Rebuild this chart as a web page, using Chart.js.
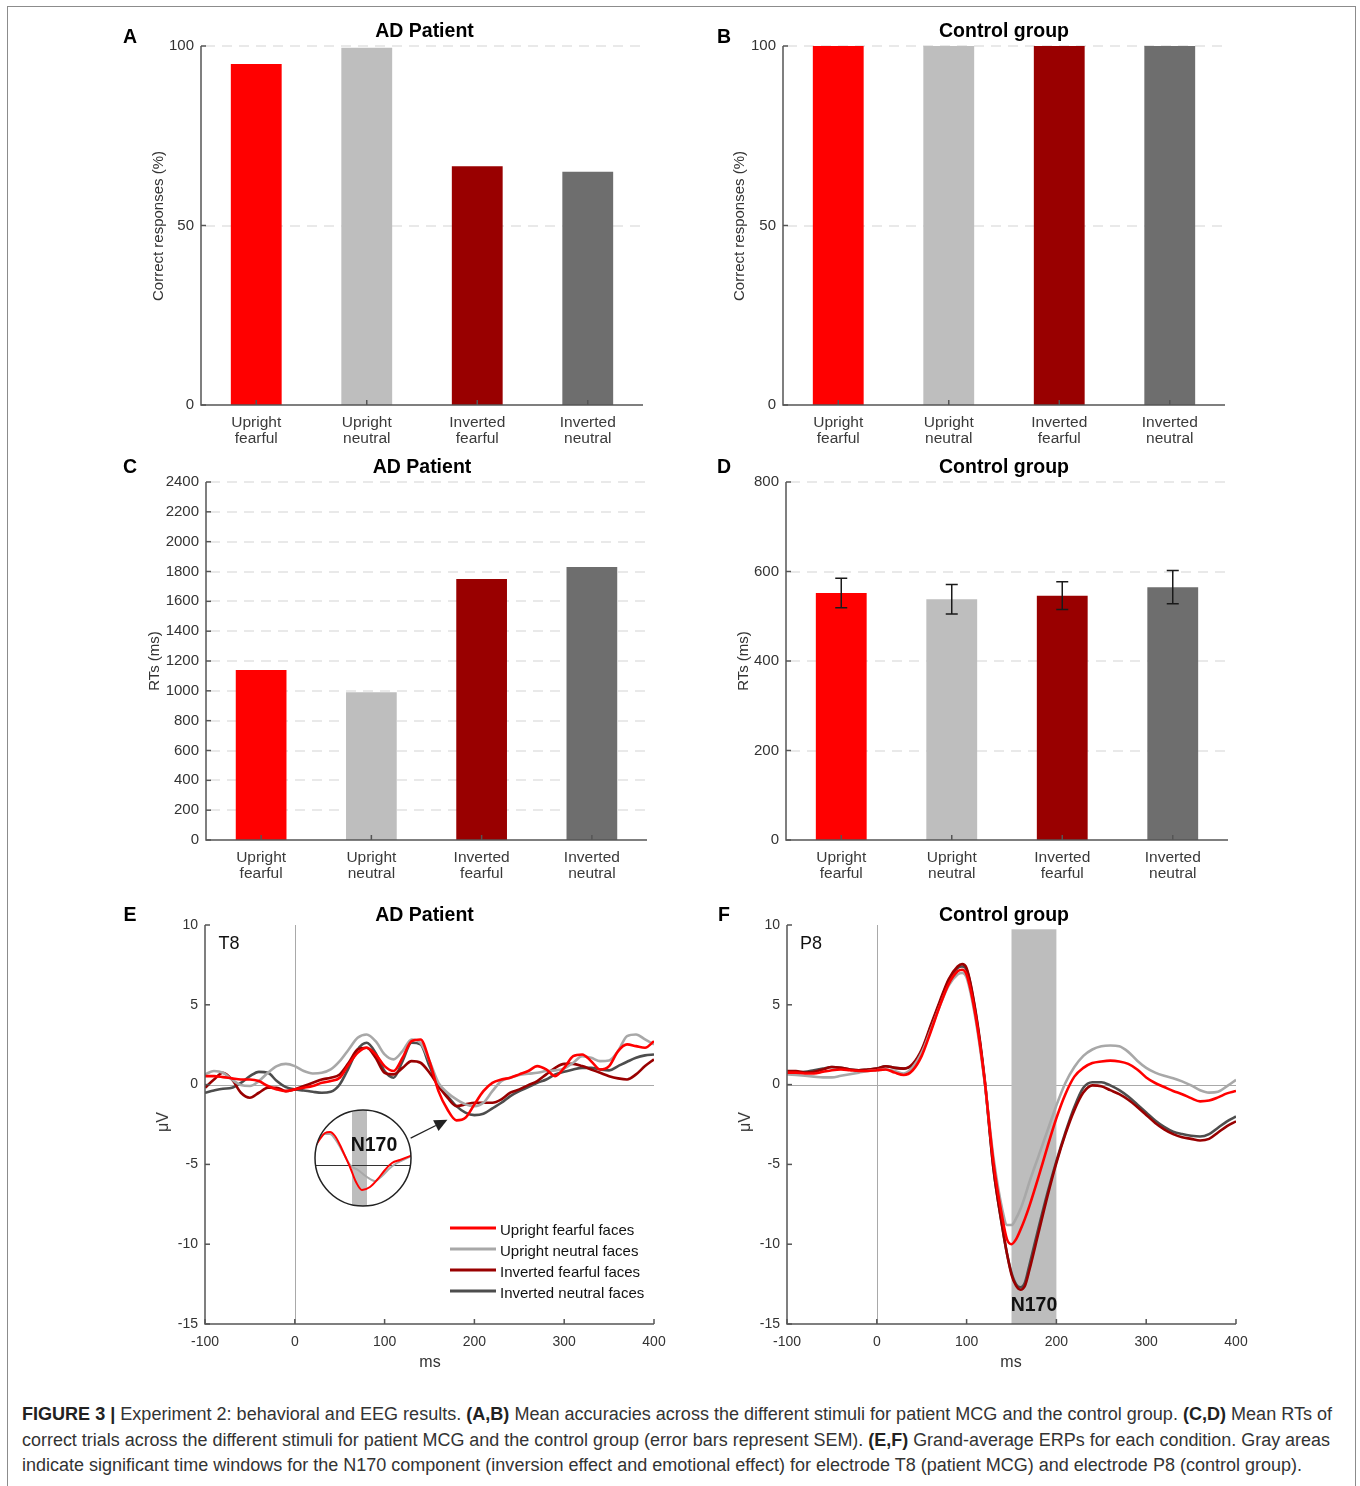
<!DOCTYPE html>
<html>
<head>
<meta charset="utf-8">
<title>Figure 3</title>
<script src="https://cdn.jsdelivr.net/npm/chart.js@4.4.1/dist/chart.umd.min.js"></script>
<style>
  html, body { margin:0; padding:0; background:#fff; }
  body { width:1360px; height:1486px; position:relative; overflow:hidden; font-family:"Liberation Sans", Arial, Helvetica, sans-serif; }
  #frame { position:absolute; left:7px; top:6px; width:1349px; height:1540px; border:1px solid #8c8c8c; box-sizing:border-box; }
  canvas { position:absolute; }
  .t { position:absolute; white-space:nowrap; transform:translate(-50%,-50%); line-height:1; }
  .title { font-weight:bold; font-size:19.5px; color:#000; }
  .let { font-weight:bold; font-size:19.5px; color:#000; }
  .ylab { font-size:15px; color:#333; transform:translate(-50%,-50%) rotate(-90deg); }
  .xlab { font-size:16px; color:#333; }
  .el { font-size:18px; color:#111; }
  .n170 { font-weight:bold; font-size:19.5px; color:#111; }
  #caption { position:absolute; left:22px; top:1400px; font-family:"Liberation Sans Narrow","Liberation Sans",Arial,sans-serif; font-size:18px; color:#333; }
  #caption .ln { position:absolute; left:0; white-space:nowrap; transform-origin:0 50%; line-height:20px; }
  #caption b { color:#222; }
</style>
</head>
<body>
<div id="frame"></div>

<canvas id="cA"></canvas>
<canvas id="cB"></canvas>
<canvas id="cC"></canvas>
<canvas id="cD"></canvas>
<canvas id="cE"></canvas>
<canvas id="cF"></canvas>
<canvas id="cInset"></canvas>

<div class="t let" style="left:130px;top:37px">A</div>
<div class="t let" style="left:724px;top:37px">B</div>
<div class="t let" style="left:130px;top:467px">C</div>
<div class="t let" style="left:724px;top:467px">D</div>
<div class="t let" style="left:130px;top:915px">E</div>
<div class="t let" style="left:724px;top:915px">F</div>

<div class="t title" style="left:424.5px;top:31px">AD Patient</div>
<div class="t title" style="left:1004px;top:31px">Control group</div>
<div class="t title" style="left:422px;top:467px">AD Patient</div>
<div class="t title" style="left:1004px;top:467px">Control group</div>
<div class="t title" style="left:424.5px;top:915px">AD Patient</div>
<div class="t title" style="left:1004px;top:915px">Control group</div>

<div class="t ylab" style="left:157px;top:226px">Correct responses (%)</div>
<div class="t ylab" style="left:738px;top:226px">Correct responses (%)</div>
<div class="t ylab" style="left:153px;top:661px">RTs (ms)</div>
<div class="t ylab" style="left:742px;top:661px">RTs (ms)</div>
<div class="t ylab" style="left:163px;top:1122px;font-size:16px">μV</div>
<div class="t ylab" style="left:745px;top:1122px;font-size:16px">μV</div>
<div class="t xlab" style="left:430px;top:1362px">ms</div>
<div class="t xlab" style="left:1011px;top:1362px">ms</div>
<div class="t el" style="left:229px;top:943px">T8</div>
<div class="t el" style="left:811px;top:943px">P8</div>
<div class="t n170" style="left:1034px;top:1305px">N170</div>

<div id="caption">
  <div class="ln" data-w="1310" style="top:4px"><b>FIGURE 3 |</b> Experiment 2: behavioral and EEG results. <b>(A,B)</b> Mean accuracies across the different stimuli for patient MCG and the control group. <b>(C,D)</b> Mean RTs of</div>
  <div class="ln" data-w="1308" style="top:30px">correct trials across the different stimuli for patient MCG and the control group (error bars represent SEM). <b>(E,F)</b> Grand-average ERPs for each condition. Gray areas</div>
  <div class="ln" data-w="1280" style="top:55px">indicate significant time windows for the N170 component (inversion effect and emotional effect) for electrode T8 (patient MCG) and electrode P8 (control group).</div>
</div>

<script>
// ---------------- DATA ----------------
const categories = [['Upright','fearful'], ['Upright','neutral'], ['Inverted','fearful'], ['Inverted','neutral']];
const accuracyAD = [95, 99.5, 66.5, 65];
const accuracyControl = [100, 100, 100, 100];
const rtAD = [1140, 990, 1750, 1830];
const rtControl = [552, 538, 546, 565];
const rtControlSEM = [33, 33, 31, 37];

const seriesLabels = ['Upright fearful faces', 'Upright neutral faces', 'Inverted fearful faces', 'Inverted neutral faces'];

// Panel E (T8, AD patient), times in ms
const timesE = [-100,-90,-80,-70,-60,-50,-40,-30,-20,-10,0,10,20,30,40,50,60,70,80,90,100,110,120,130,140,150,160,170,180,190,200,210,220,230,240,250,260,270,280,290,300,310,320,330,340,350,360,370,380,390,400];
const eUprightFearful  = [0.53,0.53,0.47,0.39,0.32,0.32,0.22,-0.09,-0.30,-0.41,-0.30,-0.20,-0.09,0.11,0.22,0.43,1.26,1.99,2.31,1.89,1.16,0.85,1.68,2.72,2.83,1.47,-0.41,-1.56,-2.24,-2.08,-1.24,-0.41,0.11,0.32,0.43,0.64,0.85,1.16,0.95,0.53,1.05,1.78,1.89,1.47,0.95,1.16,2.10,2.52,2.41,2.31,2.72];
const eUprightNeutral  = [0.64,0.85,0.74,0.32,-0.03,-0.09,0.22,0.74,1.16,1.30,1.16,0.85,0.70,0.74,0.95,1.47,2.20,2.93,3.14,2.72,1.89,1.58,2.10,2.83,2.62,1.47,0.11,-0.51,-0.93,-1.24,-1.35,-1.14,-0.41,0.22,0.43,0.60,0.68,0.74,0.85,0.89,1.01,1.37,1.78,1.68,1.47,1.51,2.10,3.04,3.14,2.83,2.52];
const eInvertedFearful = [-0.20,0.32,0.74,0.32,-0.51,-0.82,-0.51,-0.20,-0.20,-0.41,-0.30,-0.09,0.11,0.32,0.43,0.64,1.37,2.20,2.31,1.68,0.74,0.64,1.05,1.47,1.37,0.74,-0.09,-0.82,-1.35,-1.24,-1.14,-1.14,-1.14,-0.93,-0.51,-0.30,-0.03,0.22,0.64,1.05,1.30,1.30,1.16,0.95,0.74,0.53,0.39,0.32,0.64,1.16,1.58];
const eInvertedNeutral = [-0.51,-0.37,-0.26,-0.20,0.11,0.53,0.80,0.74,0.22,-0.16,-0.30,-0.37,-0.45,-0.51,-0.45,0.01,1.05,2.20,2.62,1.99,0.85,0.43,1.47,2.62,2.52,1.16,-0.09,-0.72,-1.35,-1.76,-1.91,-1.83,-1.49,-1.14,-0.72,-0.41,-0.16,0.11,0.32,0.64,0.80,0.95,1.05,1.05,0.95,0.89,1.16,1.43,1.68,1.83,1.89];

// Panel F (P8, control group), times in ms
const timesF = [-100,-90,-80,-70,-60,-50,-40,-30,-20,-10,0,10,20,30,40,50,60,70,80,90,95,100,110,120,130,140,145,150,155,160,165,170,180,190,200,210,220,230,240,250,260,270,280,290,300,310,320,330,340,350,360,370,380,390,400];
const fUprightFearful  = [0.75,0.75,0.70,0.70,0.80,0.90,0.95,0.90,0.85,0.85,0.90,0.95,0.75,0.60,0.90,1.80,3.30,4.90,6.30,7.10,7.20,6.90,4.30,0.30,-4.90,-8.40,-9.70,-10.00,-9.70,-9.10,-8.40,-7.60,-5.80,-3.90,-2.10,-0.60,0.50,1.05,1.35,1.45,1.50,1.45,1.30,0.95,0.45,0.10,-0.15,-0.40,-0.60,-0.85,-1.05,-1.00,-0.80,-0.55,-0.40];
const fUprightNeutral  = [0.65,0.60,0.55,0.50,0.45,0.45,0.55,0.65,0.75,0.85,0.90,0.95,0.85,0.70,1.10,2.00,3.40,4.90,6.20,6.90,7.00,6.70,4.10,0.20,-4.60,-7.90,-8.80,-8.80,-8.40,-7.80,-7.00,-6.10,-4.50,-2.90,-1.30,0.10,1.10,1.80,2.20,2.40,2.45,2.40,2.05,1.50,1.05,0.75,0.55,0.40,0.20,-0.05,-0.35,-0.50,-0.45,-0.10,0.30];
const fInvertedFearful = [0.85,0.85,0.75,0.80,0.95,1.10,1.05,0.95,0.90,0.95,1.00,1.15,1.05,1.00,1.30,2.20,3.70,5.20,6.60,7.40,7.55,7.30,4.60,0.40,-5.30,-9.00,-10.60,-11.90,-12.60,-12.85,-12.60,-11.60,-9.30,-7.00,-4.90,-3.10,-1.60,-0.50,-0.05,-0.10,-0.35,-0.60,-0.95,-1.40,-1.90,-2.40,-2.80,-3.10,-3.30,-3.40,-3.50,-3.40,-3.00,-2.60,-2.30];
const fInvertedNeutral = [0.70,0.75,0.80,0.90,1.00,1.10,1.05,0.95,0.90,0.95,1.00,1.15,1.05,1.00,1.25,2.10,3.60,5.10,6.50,7.30,7.40,7.20,4.50,0.30,-5.30,-9.00,-10.60,-11.80,-12.50,-12.70,-12.40,-11.30,-9.00,-6.80,-4.80,-3.00,-1.40,-0.20,0.15,0.15,-0.05,-0.35,-0.75,-1.25,-1.75,-2.25,-2.65,-2.95,-3.10,-3.20,-3.25,-3.10,-2.70,-2.30,-2.00];

// significant N170 window in panel F: [start ms, end ms, top µV]
const n170WindowF = [150, 200, 9.73];

// Inset of panel E (zoomed N170 view, relative time units)
const insetRedX  = [-2,5,10,15,20,25,30,35,41,47,55,62,70,77,85,98];
const insetRedY  = [1.5,2.6,3.2,3.3,2.9,2.0,0.9,-0.2,-1.7,-2.5,-2.2,-1.5,-0.5,0.2,0.5,1.0];
const insetGrayX = [-2,5,10,15,20,25,30,35,43,52,60,67,75,82,90,98];
const insetGrayY = [2.0,2.8,3.1,3.1,2.6,1.8,0.9,0.0,-0.5,-1.2,-1.6,-1.1,-0.3,0.2,0.6,1.0];
const insetWindow = [37, 52];
// arrow from inset to the N170 trough in panel E: [ms, µV]
const arrowFrom = [129, -3.35];
const arrowTo = [170, -2.2];

// ---------------- STYLES ----------------
const barColors = ['#ff0000', '#bebebe', '#990000', '#6e6e6e'];
const lineColors = ['#ff0000', '#a8a8a8', '#990000', '#4d4d4d'];
const FONT = '"Liberation Sans", Arial, sans-serif';

Chart.defaults.font.family = FONT;
Chart.defaults.color = '#333';
Chart.defaults.animation = false;

function place(id, box) {
  const g = { ml: 95, mt: 30, mr: 25, mb: 60 };
  const c = document.getElementById(id);
  c.width = (box.R - box.L) + g.ml + g.mr;
  c.height = (box.B - box.T) + g.mt + g.mb;
  c.style.left = (box.L - g.ml) + 'px';
  c.style.top = (box.T - g.mt) + 'px';
  g.canvas = c;
  return g;
}

const matAxes = {
  id: 'matAxes',
  beforeDatasetsDraw(chart, args, o) {
    const { ctx, chartArea: ca, scales: { x, y } } = chart;
    ctx.save();
    if (o.dashGrid) {
      ctx.strokeStyle = '#e2e2e2'; ctx.lineWidth = 1.5; ctx.setLineDash([10, 7]);
      y.ticks.forEach(t => {
        if (t.value <= y.min) return;
        const py = Math.round(y.getPixelForValue(t.value));
        ctx.beginPath(); ctx.moveTo(ca.left + 4, py); ctx.lineTo(ca.right, py); ctx.stroke();
      });
      ctx.setLineDash([]);
    }
    if (o.zeroLines) {
      ctx.strokeStyle = '#a9a9a9'; ctx.lineWidth = 1;
      const px = Math.round(x.getPixelForValue(0)) + 0.5;
      const py = Math.round(y.getPixelForValue(0)) + 0.5;
      ctx.beginPath(); ctx.moveTo(px, ca.top); ctx.lineTo(px, ca.bottom); ctx.stroke();
      ctx.beginPath(); ctx.moveTo(ca.left, py); ctx.lineTo(ca.right, py); ctx.stroke();
    }
    if (o.band) {
      const [t0, t1, v1] = o.band;
      const x0 = x.getPixelForValue(t0), x1 = x.getPixelForValue(t1);
      const yTop = y.getPixelForValue(v1);
      ctx.fillStyle = '#bdbdbd';
      ctx.fillRect(x0, yTop, x1 - x0, ca.bottom - yTop);
    }
    ctx.restore();
  },
  afterDatasetsDraw(chart) {
    const { ctx, chartArea: ca, scales: { x, y } } = chart;
    ctx.save();
    ctx.strokeStyle = '#555'; ctx.lineWidth = 1.5;
    ctx.beginPath(); ctx.moveTo(ca.left, ca.top); ctx.lineTo(ca.left, ca.bottom); ctx.lineTo(ca.right, ca.bottom); ctx.stroke();
    const tl = 5;
    y.ticks.forEach(t => {
      const py = y.getPixelForValue(t.value);
      ctx.beginPath(); ctx.moveTo(ca.left, py); ctx.lineTo(ca.left + tl, py); ctx.stroke();
    });
    x.ticks.forEach((t, i) => {
      const px = x.type === 'category' ? x.getPixelForTick(i) : x.getPixelForValue(t.value);
      ctx.beginPath(); ctx.moveTo(px, ca.bottom); ctx.lineTo(px, ca.bottom - tl); ctx.stroke();
    });
    ctx.restore();
  }
};

const errorBars = {
  id: 'errorBars',
  afterDatasetsDraw(chart, args, o) {
    if (!o.errors) return;
    const { ctx, scales: { x, y } } = chart;
    const vals = chart.data.datasets[0].data;
    ctx.save();
    ctx.strokeStyle = '#1a1a1a'; ctx.lineWidth = 1.5;
    vals.forEach((v, i) => {
      const px = x.getPixelForValue(i);
      const yt = y.getPixelForValue(v + o.errors[i]);
      const yb = y.getPixelForValue(v - o.errors[i]);
      ctx.beginPath();
      ctx.moveTo(px, yt); ctx.lineTo(px, yb);
      ctx.moveTo(px - 6, yt); ctx.lineTo(px + 6, yt);
      ctx.moveTo(px - 6, yb); ctx.lineTo(px + 6, yb);
      ctx.stroke();
    });
    ctx.restore();
  }
};

const erpExtras = {
  id: 'erpExtras',
  afterDraw(chart, args, o) {
    const { ctx, chartArea: ca, scales: { x, y } } = chart;
    ctx.save();
    if (o.legend) {
      ctx.font = '15px ' + FONT;
      ctx.textBaseline = 'middle'; ctx.fillStyle = '#111';
      chart.data.datasets.forEach((ds, i) => {
        const yy = ca.top + o.legend.dy + i * o.legend.gap;
        ctx.strokeStyle = ds.borderColor; ctx.lineWidth = 3;
        ctx.beginPath(); ctx.moveTo(ca.left + o.legend.dx, yy); ctx.lineTo(ca.left + o.legend.dx + 46, yy); ctx.stroke();
        ctx.fillText(ds.label, ca.left + o.legend.dx + 50, yy + 3);
      });
    }
    if (o.arrow) {
      const x0 = x.getPixelForValue(o.arrow.from[0]), y0 = y.getPixelForValue(o.arrow.from[1]);
      const x1 = x.getPixelForValue(o.arrow.to[0]), y1 = y.getPixelForValue(o.arrow.to[1]);
      const a = Math.atan2(y1 - y0, x1 - x0);
      const hl = 13, hw = 6;
      const bx = x1 - hl * Math.cos(a), by = y1 - hl * Math.sin(a);
      ctx.strokeStyle = '#222'; ctx.fillStyle = '#222'; ctx.lineWidth = 1.3;
      ctx.beginPath(); ctx.moveTo(x0, y0); ctx.lineTo(bx, by); ctx.stroke();
      ctx.beginPath();
      ctx.moveTo(x1, y1);
      ctx.lineTo(bx + hw * Math.sin(a), by - hw * Math.cos(a));
      ctx.lineTo(bx - hw * Math.sin(a), by + hw * Math.cos(a));
      ctx.closePath(); ctx.fill();
    }
    ctx.restore();
  }
};

function barChart(id, box, values, yMax, yStep, errors) {
  const g = place(id, box);
  return new Chart(g.canvas, {
    type: 'bar',
    data: { labels: categories, datasets: [{ data: values, backgroundColor: barColors, borderWidth: 0, barPercentage: 0.46, categoryPercentage: 1 }] },
    options: {
      responsive: false, devicePixelRatio: 1, animation: false,
      layout: { padding: { top: g.mt, right: g.mr, left: 0, bottom: 0 } },
      plugins: { legend: { display: false }, tooltip: { enabled: false }, title: { display: false },
                 matAxes: { dashGrid: true }, errorBars: { errors: errors || null } },
      scales: {
        x: { grid: { display: false, drawTicks: false }, border: { display: false },
             ticks: { color: '#3a3a3a', font: { size: 15.5, lineHeight: 1.04 }, padding: 10, maxRotation: 0, autoSkip: false },
             afterFit: s => { s.height = g.mb; } },
        y: { min: 0, max: yMax, grid: { display: false, drawTicks: false }, border: { display: false },
             ticks: { stepSize: yStep, color: '#333', font: { size: 15 }, padding: 7, callback: v => String(v) },
             afterFit: s => { s.width = g.ml; } }
      }
    },
    plugins: [matAxes, errorBars]
  });
}

function erpChart(id, box, times, series, extra, band) {
  const g = place(id, box);
  return new Chart(g.canvas, {
    type: 'line',
    data: {
      datasets: series.map((vals, k) => ({
        label: seriesLabels[k],
        data: times.map((t, i) => ({ x: t, y: vals[i] })),
        borderColor: lineColors[k], borderWidth: 2.6, pointRadius: 0,
        cubicInterpolationMode: 'monotone', fill: false
      }))
    },
    options: {
      responsive: false, devicePixelRatio: 1, animation: false,
      layout: { padding: { top: g.mt, right: g.mr, left: 0, bottom: 0 } },
      plugins: { legend: { display: false }, tooltip: { enabled: false }, title: { display: false },
                 matAxes: { zeroLines: true, band: band || null }, erpExtras: extra },
      scales: {
        x: { type: 'linear', min: -100, max: 400, grid: { display: false, drawTicks: false }, border: { display: false },
             ticks: { stepSize: 100, color: '#333', font: { size: 14 }, padding: 10, callback: v => String(v) },
             afterFit: s => { s.height = g.mb; } },
        y: { min: -15, max: 10, grid: { display: false, drawTicks: false }, border: { display: false },
             ticks: { stepSize: 5, color: '#333', font: { size: 14 }, padding: 7, callback: v => String(v) },
             afterFit: s => { s.width = g.ml; } }
      }
    },
    plugins: [matAxes, erpExtras]
  });
}

barChart('cA', { L: 201, T: 46, R: 643, B: 405 }, accuracyAD, 100, 50);
barChart('cB', { L: 783, T: 46, R: 1225, B: 405 }, accuracyControl, 100, 50);
barChart('cC', { L: 206, T: 482, R: 647, B: 840 }, rtAD, 2400, 200);
barChart('cD', { L: 786, T: 482, R: 1228, B: 840 }, rtControl, 800, 200, rtControlSEM);

erpChart('cE', { L: 205, T: 925, R: 654, B: 1324 }, timesE,
  [eUprightFearful, eUprightNeutral, eInvertedFearful, eInvertedNeutral],
  { legend: { dx: 245, dy: 303, gap: 21 }, arrow: { from: arrowFrom, to: arrowTo } });
erpChart('cF', { L: 787, T: 925, R: 1236, B: 1324 }, timesF,
  [fUprightFearful, fUprightNeutral, fInvertedFearful, fInvertedNeutral],
  {}, n170WindowF);

// ---------- Inset (zoomed N170 view) ----------
const insetDeco = {
  id: 'insetDeco',
  beforeDraw(chart) {
    const { ctx } = chart;
    ctx.save();
    ctx.beginPath(); ctx.arc(50, 50, 48, 0, Math.PI * 2);
    ctx.fillStyle = '#fff'; ctx.fill(); ctx.clip();
  },
  beforeDatasetsDraw(chart) {
    const { ctx, chartArea: ca, scales: { x, y } } = chart;
    ctx.save();
    const x0 = x.getPixelForValue(insetWindow[0]), x1 = x.getPixelForValue(insetWindow[1]);
    ctx.fillStyle = '#bdbdbd'; ctx.fillRect(x0, ca.top, x1 - x0, ca.bottom - ca.top);
    const py = Math.round(y.getPixelForValue(0)) + 0.5;
    ctx.strokeStyle = '#333'; ctx.lineWidth = 1;
    ctx.beginPath(); ctx.moveTo(ca.left, py); ctx.lineTo(ca.right, py); ctx.stroke();
    ctx.restore();
  },
  afterDatasetsDraw(chart) {
    const { ctx } = chart;
    ctx.save();
    ctx.font = 'bold 19.5px ' + FONT; ctx.fillStyle = '#111';
    ctx.textAlign = 'center'; ctx.textBaseline = 'middle';
    ctx.fillText('N170', 61, 38);
    ctx.restore();
  },
  afterDraw(chart) {
    const { ctx } = chart;
    ctx.restore();
    ctx.save();
    ctx.strokeStyle = '#222'; ctx.lineWidth = 1.5;
    ctx.beginPath(); ctx.arc(50, 50, 48, 0, Math.PI * 2); ctx.stroke();
    ctx.restore();
  }
};
(function () {
  const c = document.getElementById('cInset');
  c.width = 100; c.height = 100;
  c.style.left = '313px'; c.style.top = '1108px';
  new Chart(c, {
    type: 'line',
    data: {
      datasets: [
        { data: insetRedX.map((t, i) => ({ x: t, y: insetRedY[i] })), borderColor: lineColors[0], borderWidth: 2, pointRadius: 0, cubicInterpolationMode: 'monotone' },
        { data: insetGrayX.map((t, i) => ({ x: t, y: insetGrayY[i] })), borderColor: lineColors[1], borderWidth: 2, pointRadius: 0, cubicInterpolationMode: 'monotone' }
      ]
    },
    options: {
      responsive: false, devicePixelRatio: 1, animation: false,
      layout: { padding: 0 },
      plugins: { legend: { display: false }, tooltip: { enabled: false } },
      scales: {
        x: { type: 'linear', min: -2, max: 98, display: false },
        y: { min: -4.3, max: 5.7, display: false }
      }
    },
    plugins: [insetDeco]
  });
})();

// ---------- Caption line fitting ----------
document.querySelectorAll('#caption .ln').forEach(el => {
  const target = parseFloat(el.dataset.w);
  const w = el.getBoundingClientRect().width;
  if (w > 0) el.style.transform = 'scaleX(' + (target / w) + ')';
});
</script>
</body>
</html>
